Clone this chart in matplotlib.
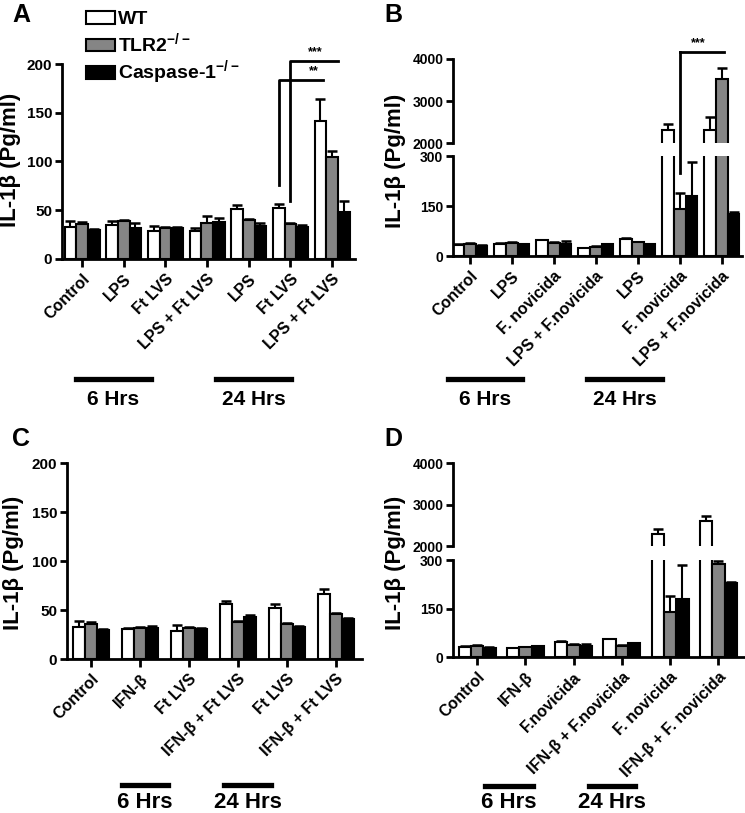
import numpy as np
import matplotlib.pyplot as plt
from matplotlib.patches import Patch
from matplotlib.lines import Line2D

plt.rcParams['font.family'] = ['Liberation Sans', 'DejaVu Sans']
plt.rcParams['font.weight'] = 'bold'
plt.rcParams['mathtext.fontset'] = 'custom'
plt.rcParams['mathtext.rm'] = 'Liberation Sans:bold'
plt.rcParams['mathtext.bf'] = 'Liberation Sans:bold'

# ---- data (pg/ml) ----
series = ['WT', 'TLR2$^{-/-}$', 'Caspase-1$^{-/-}$']
colors = ['white', '#858585', 'black']

labels_A = ['Control', 'LPS', 'Ft LVS', 'LPS + Ft LVS', 'LPS', 'Ft LVS', 'LPS + Ft LVS']
wt_A = [33, 35, 29, 29, 51, 52, 142]
wt_A_err = [6, 4, 5, 3, 4, 4, 22]
tlr_A = [36, 39, 32, 37, 40, 36, 105]
tlr_A_err = [2, 1, 0.5, 7, 1, 1, 6]
casp_A = [30, 32, 32, 38, 34, 33, 48]
casp_A_err = [1, 5, 0.5, 4, 3, 2, 11]

labels_B = ['Control', 'LPS', 'F. novicida', 'LPS + F.novicida', 'LPS', 'F. novicida', 'LPS + F.novicida']
wt_B = [32, 36, 48, 23, 52, 2300, 2320]
wt_B_err = [4, 2, 1, 2, 3, 150, 300]
tlr_B = [36, 40, 40, 28, 42, 141, 3530]
tlr_B_err = [2, 1, 2, 2, 1, 47, 250]
casp_B = [30, 35, 35, 35, 36, 180, 125]
casp_B_err = [2, 1, 9, 1, 1, 103, 8]

labels_C = ['Control', 'IFN-β', 'Ft LVS', 'IFN-β + Ft LVS', 'Ft LVS', 'IFN-β + Ft LVS']
wt_C = [33, 31, 29, 56, 52, 66]
wt_C_err = [6, 0.5, 6, 3, 4, 5]
tlr_C = [36, 32, 32, 38, 36, 46]
tlr_C_err = [2, 1, 0.5, 0.5, 1, 0.5]
casp_C = [30, 32, 31, 43, 33, 41]
casp_C_err = [1, 2, 0.5, 2, 1, 1]

labels_D = ['Control', 'IFN-β', 'F.novicida', 'IFN-β + F.novicida', 'F. novicida', 'IFN-β + F. novicida']
wt_D = [30, 28, 46, 55, 2300, 2600]
wt_D_err = [5, 1, 2, 2, 120, 130]
tlr_D = [34, 31, 38, 35, 140, 287]
tlr_D_err = [2, 1, 2, 2, 48, 10]
casp_D = [29, 33, 33, 43, 178, 230]
casp_D_err = [1, 1, 7, 1, 105, 2]

W, H = 745, 813
fig = plt.figure(figsize=(W / 100, H / 100), dpi=100)


def box(left, right, top, bottom):
    # pixel box -> figure fraction
    return [left / W, 1 - bottom / H, (right - left) / W, (bottom - top) / H]


def style(ax, size):
    for s in ['top', 'right']:
        ax.spines[s].set_visible(False)
    for s in ['left', 'bottom']:
        ax.spines[s].set_linewidth(2)
    ax.tick_params(width=2, length=5, labelsize=size, pad=2)


def bars(ax, vals, errs, width):
    x = np.arange(len(vals[0]))
    for i in range(3):
        xs = x + (i - 1) * width
        ax.bar(xs, vals[i], width, color=colors[i], edgecolor='black', linewidth=1.5, zorder=2)
        ax.errorbar(xs, vals[i], yerr=[np.zeros(len(xs)), errs[i]], fmt='none', ecolor='black',
                    elinewidth=1.5, capsize=3.5, capthick=1.8, zorder=1)
    return x


def xlabels(ax, x, labels):
    ax.set_xticks(x)
    ax.set_xticklabels(labels, rotation=45, ha='right', rotation_mode='anchor', fontsize=11.5)
    ax.tick_params(axis='x', length=6, width=2, pad=3)


def ylabel(xp, yp):
    fig.text(xp / W, 1 - yp / H, 'IL-1β (Pg/ml)', rotation=90, ha='center', va='center',
             fontsize=16, fontweight='bold')


# ---------- panel A ----------
wA = 0.28
axA = fig.add_axes(box(62, 355, 64, 259))
style(axA, 11)
xA = bars(axA, [wt_A, tlr_A, casp_A], [wt_A_err, tlr_A_err, casp_A_err], wA)
axA.set_xlim(-0.48, 6.55)
axA.set_ylim(0, 200)
axA.set_yticks([0, 50, 100, 150, 200])
xlabels(axA, xA, labels_A)
# ** bracket
axA.plot([5 - wA, 5 - wA, 6 - wA + 0.06], [76, 184, 184], color='black', lw=2, clip_on=False)
axA.text(5.55, 187, '**', ha='center', va='bottom', fontsize=9)
# *** bracket
axA.plot([5, 5, 6 + 0.14], [59, 203, 203], color='black', lw=2, clip_on=False)
axA.text(5.6, 206, '***', ha='center', va='bottom', fontsize=9)

# ---------- panel B (broken axis) ----------
wB = 0.28
axB = fig.add_axes(box(453, 742, 156, 256))
axB2 = fig.add_axes(box(453, 742, 59, 143))
style(axB, 10)
style(axB2, 10)
for ax in (axB, axB2):
    xB = bars(ax, [wt_B, tlr_B, casp_B], [wt_B_err, tlr_B_err, casp_B_err], wB)
    ax.set_xlim(-0.4, 6.48)
axB.set_ylim(0, 300)
axB.set_yticks([0, 150, 300])
axB2.set_ylim(2000, 4000)
axB2.set_yticks([2000, 3000, 4000])
axB2.spines['bottom'].set_visible(False)
axB2.set_xticks([])
xlabels(axB, xB, labels_B)
# *** bracket spanning both halves of the broken axis
p_lo = axB.transData.transform((5, 250))
p_hi = axB2.transData.transform((5, 4160))
inv = fig.transFigure.inverted()
(fx1, fy1), (fx2, fy2) = inv.transform([p_lo, p_hi])
fig.add_artist(Line2D([fx1, fx2], [fy1, fy2], color='black', lw=2))
axB2.plot([5, 6.05], [4160, 4160], color='black', lw=2, clip_on=False)
axB2.text(5.45, 4230, '***', ha='center', va='bottom', fontsize=9)

# ---------- panel C ----------
axC = fig.add_axes(box(67, 362, 463, 659))
style(axC, 11)
xC = bars(axC, [wt_C, tlr_C, casp_C], [wt_C_err, tlr_C_err, casp_C_err], 0.245)
axC.set_xlim(-0.49, 5.53)
axC.set_ylim(0, 200)
axC.set_yticks([0, 50, 100, 150, 200])
xlabels(axC, xC, labels_C)

# ---------- panel D (broken axis) ----------
axD = fig.add_axes(box(453, 744, 560, 657))
axD2 = fig.add_axes(box(453, 744, 463, 546))
style(axD, 10)
style(axD2, 10)
for ax in (axD, axD2):
    xD = bars(ax, [wt_D, tlr_D, casp_D], [wt_D_err, tlr_D_err, casp_D_err], 0.255)
    ax.set_xlim(-0.5, 5.53)
axD.set_ylim(0, 300)
axD.set_yticks([0, 150, 300])
axD2.set_ylim(2000, 4000)
axD2.set_yticks([2000, 3000, 4000])
axD2.spines['bottom'].set_visible(False)
axD2.set_xticks([])
xlabels(axD, xD, labels_D)

# ---------- labels, legend, time bars ----------
ylabel(11, 160)
ylabel(396, 161)
ylabel(14, 563)
ylabel(396, 563)

for txt, xp, yp in [('A', 12, 3), ('B', 384, 3), ('C', 12, 427), ('D', 384, 427)]:
    fig.text(xp / W, 1 - yp / H, txt, ha='left', va='top', fontsize=18, fontweight='bold')

handles = [Patch(facecolor=c, edgecolor='black', linewidth=1.5) for c in colors]
fig.legend(handles, series, loc='upper left', bbox_to_anchor=(86 / W, 1 - 11 / H), frameon=False,
           fontsize=14, handlelength=1.5, handleheight=0.62, labelspacing=0.15, handletextpad=0.15,
           borderpad=0, borderaxespad=0)

for x1, x2, y, ty, t, fs in [(76, 151, 379, 399, '6 Hrs', 15), (216, 291, 379, 399, '24 Hrs', 15),
                             (448, 522, 379, 399, '6 Hrs', 15), (587, 662, 379, 399, '24 Hrs', 15),
                             (122, 168, 785, 802, '6 Hrs', 16), (224, 271, 785, 802, '24 Hrs', 16),
                             (485, 533, 786, 802, '6 Hrs', 16), (589, 635, 786, 802, '24 Hrs', 16)]:
    fig.add_artist(Line2D([x1 / W, x2 / W], [1 - y / H, 1 - y / H], color='black', lw=3.8))
    fig.text((x1 + x2) / 2 / W, 1 - ty / H, t, ha='center', va='center', fontsize=fs,
             fontweight='bold')

fig.savefig('out.png', dpi=100)
